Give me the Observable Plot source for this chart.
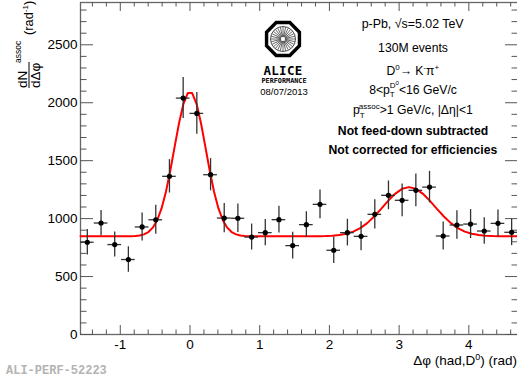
<!DOCTYPE html>
<html><head><meta charset="utf-8">
<script src="https://cdn.jsdelivr.net/npm/d3@7"></script>
<script src="https://cdn.jsdelivr.net/npm/@observablehq/plot@0.6"></script>
<style>
html,body{margin:0;padding:0;background:#fff;}
#chart{position:relative;width:517px;height:381px;overflow:hidden;}
svg{font-family:"Liberation Sans",Arial,sans-serif;}
</style></head><body><div id="chart"></div>
<script>
// ---- data ----
const binCenters = [-1.473,-1.276,-1.080,-0.884,-0.687,-0.491,-0.295,-0.098,0.098,0.295,0.491,0.687,0.884,1.080,1.276,1.473,1.669,1.865,2.062,2.258,2.454,2.651,2.847,3.043,3.240,3.436,3.632,3.829,4.025,4.221,4.418,4.614];
const counts = [796,962,776,647,928,990,1365,2040,1908,1379,1005,1003,841,879,991,767,948,1123,727,879,847,1037,1201,1158,1244,1272,850,945,953,893,959,882];
const errors = [110,109,108,110,121,125,144,177,181,139,126,123,112,114,115,115,111,125,115,115,125,126,124,141,141,136,121,123,125,115,115,115];
const halfBin = 0.098;
const fitX = [-1.571,-0.848,-0.785,-0.723,-0.660,-0.597,-0.534,-0.471,-0.408,-0.346,-0.283,-0.220,-0.157,-0.094,-0.031,0.031,0.094,0.157,0.220,0.283,0.346,0.408,0.471,0.534,0.597,0.660,0.723,0.785,0.848,1.842,1.942,2.042,2.142,2.242,2.342,2.442,2.542,2.642,2.742,2.842,2.942,3.042,3.142,3.242,3.342,3.442,3.542,3.642,3.742,3.842,3.942,4.042,4.142,4.242,4.342,4.442,4.712];
const fitY = [847,848,850,854,864,884,922,986,1088,1230,1413,1621,1825,1991,2083,2083,1991,1825,1621,1413,1230,1088,986,922,884,864,854,850,848,848,849,852,858,869,888,918,961,1018,1084,1153,1214,1257,1272,1257,1214,1153,1084,1018,961,918,888,869,858,852,849,848,847];
const yMajorTicks = [0,500,1000,1500,2000,2500];
const yMinorTicks = [100,200,300,400,600,700,800,900,1100,1200,1300,1400,1600,1700,1800,1900,2100,2200,2300,2400,2600,2700,2800];
const xMajorTicks = [-1,0,1,2,3,4];
const xMinorTicks = [-1.4,-1.2,-0.8,-0.6,-0.4,-0.2,0.2,0.4,0.6,0.8,1.2,1.4,1.6,1.8,2.2,2.4,2.6,2.8,3.2,3.4,3.6,3.8,4.2,4.4,4.6];
const xDomain = [-1.5708, 4.7124];
const yDomain = [0, 2865];

const points = binCenters.map((x,i)=>({x, y:counts[i], e:errors[i]}));
const fit = fitX.map((x,i)=>({x, y:fitY[i]}));

const W=517, H=381, mL=80, mT=2, mR=-1, mB=47;
const pw = W-mL-mR, ph = H-mT-mB;
const tickCol = "#555";

const plot = Plot.plot({
  width: W, height: H,
  marginLeft: mL, marginTop: mT, marginRight: mR, marginBottom: mB,
  x: {domain: xDomain},
  y: {domain: yDomain},
  style: {background:"#fff", fontFamily:"Liberation Sans, Arial, sans-serif", overflow:"visible"},
  marks: [
    Plot.frame({stroke:"#666", strokeWidth:1.3}),
    Plot.tickY(yMajorTicks, {y:d=>d, insetRight: pw-13, stroke:tickCol}),
    Plot.tickY(yMinorTicks, {y:d=>d, insetRight: pw-6.5, stroke:tickCol}),
    Plot.tickY(yMajorTicks, {y:d=>d, insetLeft: pw-13, stroke:tickCol}),
    Plot.tickY(yMinorTicks, {y:d=>d, insetLeft: pw-6.5, stroke:tickCol}),
    Plot.tickX(xMajorTicks, {x:d=>d, insetTop: ph-9, stroke:tickCol}),
    Plot.tickX(xMinorTicks, {x:d=>d, insetTop: ph-4.5, stroke:tickCol}),
    Plot.tickX(xMajorTicks, {x:d=>d, insetBottom: ph-9, stroke:tickCol}),
    Plot.tickX(xMinorTicks, {x:d=>d, insetBottom: ph-4.5, stroke:tickCol}),
    Plot.axisY({ticks: yMajorTicks, tickSize:0, tickPadding:3, fontSize:13.5, label:null, tickFormat:d=>String(d)}),
    Plot.axisX({ticks: xMajorTicks, tickSize:0, tickPadding:5, fontSize:13.5, label:null, tickFormat:d=>String(d)}),
    Plot.line(fit, {x:"x", y:"y", stroke:"#ff0000", strokeWidth:2}),
    Plot.ruleX(points, {x:"x", y1:d=>d.y-d.e, y2:d=>d.y+d.e, stroke:"#333", strokeWidth:1.3}),
    Plot.ruleY(points, {y:"y", x1:d=>d.x-halfBin, x2:d=>d.x+halfBin, stroke:"#333", strokeWidth:1.3}),
    Plot.dot(points, {x:"x", y:"y", r:2.6, fill:"#000"})
  ]
});
document.getElementById("chart").appendChild(plot);

const svg = d3.select(plot);

// rich text helper
function rich(parent, segs, cx, baseline, fs, bold, anchor) {
  const g = parent.append("g");
  const t = g.append("text").attr("x",0).attr("y",0).attr("font-size",fs).attr("fill","#000").attr("text-anchor","start");
  if (bold) t.attr("font-weight","bold");
  let cur = 0, prevW = 0, pending = 0;
  for (const s of segs) {
    const off = s.off || 0;
    const ts = t.append("tspan").text(s.t).attr("font-size", s.fs || fs).attr("dy", off-cur);
    let dx = (s.dx||0);
    if (s.stack) dx -= prevW; else dx += pending;
    if (dx) ts.attr("dx", dx);
    cur = off;
    const w = ts.node().getComputedTextLength();
    if (s.stack) { pending = Math.max(0, prevW - w); prevW = Math.max(prevW, w); }
    else { pending = 0; prevW = w; }
  }
  const bb = t.node().getBBox();
  let tx = cx - (bb.x + bb.width/2);
  if (anchor === "end") tx = cx - (bb.x + bb.width);
  if (anchor === "start") tx = cx - bb.x;
  g.attr("transform", `translate(${tx},${baseline})`);
  return g;
}

const info = svg.append("g");
const cx = 413;
rich(info, [{t:"p-Pb, \u221As=5.02 TeV"}], cx, 27.6, 12.4);
rich(info, [{t:"130M events"}], cx, 51.6, 12.2);
rich(info, [{t:"D"},{t:"0",off:-5,fs:8},{t:"\u2192 K"},{t:"-",off:-5,fs:8},{t:"\u03C0"},{t:"+",off:-5,fs:8}], cx, 75.3, 12.2);
rich(info, [{t:"8<p"},{t:"T",off:3.5,fs:8},{t:"D",off:-5.5,fs:8,stack:true},{t:"0",off:-9,fs:6},{t:"<16 GeV/c"}], cx, 93.8, 12.2);
rich(info, [{t:"p"},{t:"T",off:3.5,fs:8},{t:"assoc",off:-5.5,fs:8,stack:true},{t:">1 GeV/c, |\u0394\u03B7|<1"}], cx, 114.3, 12.2);
rich(info, [{t:"Not feed-down subtracted"}], cx, 135.3, 12.2, true);
rich(info, [{t:"Not corrected for efficiencies"}], cx, 154.3, 12.2, true);

// x-axis title
rich(svg, [{t:"\u0394\u03C6 (had,D"},{t:"0",off:-5.5,fs:9},{t:") (rad)",off:0}], 517, 365, 13.5, false, "end");

// y-axis title (rotated)
const yt = svg.append("g").attr("transform","translate(29,88) rotate(-90)").attr("text-anchor","start");
yt.append("text").attr("x",0).attr("y",-2).attr("font-size",13.5).text("dN");
yt.append("line").attr("x1",0).attr("x2",26).attr("y1",0).attr("y2",0).attr("stroke","#000").attr("stroke-width",1);
yt.append("text").attr("x",0).attr("y",11).attr("font-size",13.5).text("d\u0394\u03C6");
yt.append("text").attr("x",25).attr("y",-8).attr("font-size",8.5).text("assoc");
const rad = yt.append("text").attr("x",53).attr("y",4).attr("font-size",12.8);
rad.append("tspan").text("(rad");
rad.append("tspan").text("-1").attr("font-size",8).attr("dy",-5.5);
rad.append("tspan").text(")").attr("dy",5.5);

// logo
const lg = svg.append("g").attr("transform","translate(283,39)");
const R = 17.8;
const oct = d3.range(8).map(i=>{const a = Math.PI/8 + i*Math.PI/4; return [R*Math.cos(a), R*Math.sin(a)];});
lg.append("polygon").attr("points", oct.map(p=>p.join(",")).join(" ")).attr("fill","#fff").attr("stroke","#000").attr("stroke-width",3.4);
lg.append("circle").attr("r",12.5).attr("fill","none").attr("stroke","#000").attr("stroke-width",0.7);
for (let i=0;i<28;i++){const a=i*2*Math.PI/28; lg.append("line").attr("x1",2.2*Math.cos(a)).attr("y1",2.2*Math.sin(a)).attr("x2",12*Math.cos(a)).attr("y2",12*Math.sin(a)).attr("stroke","#000").attr("stroke-width",0.6);}
svg.append("text").attr("x",283).attr("y",75).attr("text-anchor","middle").attr("font-size",12.5).attr("font-weight","bold").attr("font-family","DejaVu Sans Mono, monospace").attr("letter-spacing",0.3).text("ALICE");
svg.append("text").attr("x",284).attr("y",83).attr("text-anchor","middle").attr("font-size",6.8).attr("font-weight","bold").attr("font-family","DejaVu Sans Mono, monospace").text("PERFORMANCE");
svg.append("text").attr("x",284).attr("y",95).attr("text-anchor","middle").attr("font-size",9.5).text("08/07/2013");

// watermark
svg.append("text").attr("x",6).attr("y",374).attr("text-anchor","start").attr("font-size",12).attr("font-weight","bold").attr("font-family","Liberation Mono, DejaVu Sans Mono, monospace").attr("fill","#b4b4b4").text("ALI-PERF-52223");
</script></body></html>
